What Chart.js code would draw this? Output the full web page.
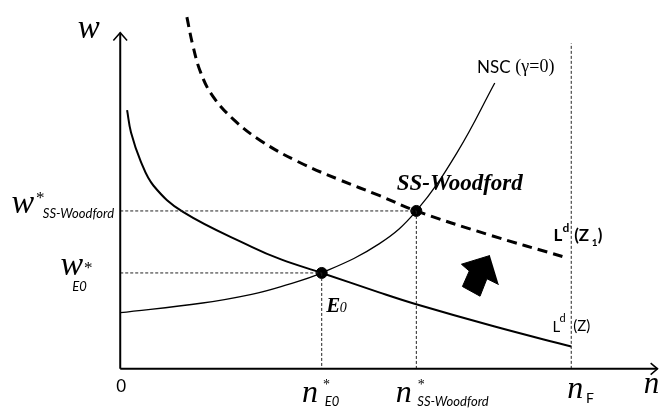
<!DOCTYPE html>
<html><head><meta charset="utf-8">
<script src="https://cdn.jsdelivr.net/npm/chart.js@4/dist/chart.umd.min.js"></script>
<style>html,body{margin:0;padding:0;background:#fff}#wrap{width:665px;height:418px}</style>
</head><body><div id="wrap"><canvas id="c" width="665" height="418"></canvas></div>
<script>
// Employment n (horizontal) and real wage w (vertical), arbitrary units
const nscN = [0, 84, 134, 164, 205.5, 264, 302, 344, 382];
const nscW = [58, 68, 77, 85, 99, 129, 163, 224, 295];

const ldN = [7, 11, 21, 34, 64, 134, 164, 205.5, 264, 301, 381, 460];
const ldW = [267, 244, 214, 189, 162, 126, 113, 99, 79, 67, 44, 23];

const ld1N = [68, 74, 82, 94, 116, 144, 181, 224, 264, 302, 374, 451];
const ld1W = [363, 334, 306, 282, 257, 235, 214, 195, 179, 163, 139, 116];

const eqNames = ['E0', 'SS-Woodford'];
const eqN = [205.5, 302];
const eqW = [99, 163];

const nFull = 460;
const nFullTop = 336;

const shiftArrowN = [377, 348, 356, 349, 367, 374, 386];
const shiftArrowW = [117, 108, 101, 85, 75, 93, 87];

const axisN = [0, 548];
const axisW = [0, 347];

const zip = (a, b) => a.map((v, i) => ({x: v, y: b[i]}));

const line = (data, extra) => Object.assign({
  type: 'line', data, borderColor: '#000', borderWidth: 1.5, pointRadius: 0,
  tension: 0, fill: false
}, extra);

const dotted = {borderColor: '#222', borderWidth: 1, borderDash: [3, 2]};

const datasets = [
  // axes
  line([{x: axisN[0], y: 0}, {x: axisN[1], y: 0}], {borderWidth: 2}),
  line([{x: 0, y: axisW[0]}, {x: 0, y: axisW[1]}], {borderWidth: 2}),
  line([{x: axisN[1] - 7, y: 6}, {x: axisN[1], y: 0}, {x: axisN[1] - 7, y: -6}], {borderWidth: 1.5}),
  line([{x: -7, y: axisW[1] - 8}, {x: 0, y: axisW[1]}, {x: 7, y: axisW[1] - 8}], {borderWidth: 1.5}),
  // dotted guides
  line([{x: 0, y: eqW[0]}, {x: eqN[0], y: eqW[0]}], dotted),
  line([{x: eqN[0], y: eqW[0]}, {x: eqN[0], y: 0}], dotted),
  line([{x: 0, y: eqW[1]}, {x: eqN[1], y: eqW[1]}], dotted),
  line([{x: eqN[1], y: eqW[1]}, {x: eqN[1], y: 0}], dotted),
  line([{x: nFull, y: 0}, {x: nFull, y: nFullTop}], dotted),
  // curves
  line(zip(ldN, ldW), {borderWidth: 2, tension: 0.4}),
  line(zip(nscN, nscW), {borderWidth: 1.3, tension: 0.4}),
  line(zip(ld1N, ld1W), {borderWidth: 3, borderDash: [10, 6], tension: 0.4}),
  // shift arrow
  line(zip(shiftArrowN, shiftArrowW), {borderWidth: 1, backgroundColor: '#000', fill: 'shape'}),
  // equilibrium points
  {type: 'line', data: zip(eqN, eqW), showLine: false, pointRadius: 5.5, pointBackgroundColor: '#000', pointBorderColor: '#000', pointBorderWidth: 1}
];

const labels = {
  id: 'labels',
  afterDatasetsDraw(chart) {
    const ctx = chart.ctx, xs = chart.scales.x, ys = chart.scales.y;
    const px = v => xs.getPixelForValue(v), py = v => ys.getPixelForValue(v);
    const T = (s, n, w, font, align, base) => {
      ctx.font = font; ctx.textAlign = align || 'left'; ctx.textBaseline = base || 'middle';
      ctx.fillStyle = '#000'; ctx.fillText(s, px(n), py(w));
    };
    const SERIF = '"Liberation Serif", "Times New Roman", serif';
    const SANS = 'Lato, "Liberation Sans", sans-serif';
    ctx.save();
    // axis titles
    T('w', -32, 341, 'italic 33px ' + SERIF, 'center', 'alphabetic');
    T('n', 534, -25, 'italic 31px ' + SERIF, 'left', 'alphabetic');
    T('0', 1, -18, '17px ' + SANS, 'center');
    // w*_SS-Woodford
    T('w', -111, 161, 'italic 34px ' + SERIF, 'left', 'alphabetic');
    T('*', -86, 176, '17px ' + SERIF, 'left');
    T('SS-Woodford', -79, 160, 'italic 13px ' + SANS, 'left');
    // w*_E0
    T('w', -61, 97, 'italic 34px ' + SERIF, 'left', 'alphabetic');
    T('*', -37, 104, '17px ' + SERIF, 'left');
    T('E0', -49, 85, 'italic 13px ' + SANS, 'left');
    // n*_E0
    T('n', eqN[0] - 20, -34, 'italic 32px ' + SERIF, 'left', 'alphabetic');
    T('*', eqN[0] + 5, -17, '14px ' + SERIF, 'center');
    T('E0', eqN[0] + 3, -34, 'italic 13px ' + SANS, 'left');
    // n*_SS-Woodford
    T('n', eqN[1] - 21, -34, 'italic 32px ' + SERIF, 'left', 'alphabetic');
    T('*', eqN[1] + 5, -17, '14px ' + SERIF, 'center');
    T('SS-Woodford', eqN[1] + 1, -34, 'italic 13px ' + SANS, 'left');
    // n_F
    T('n', nFull - 4, -30, 'italic 32px ' + SERIF, 'left', 'alphabetic');
    T('F', nFull + 15, -31, '14px ' + SANS, 'left');
    // NSC
    T('NSC', 364, 311, '17px ' + SANS, 'left');
    T('(\u03B3=0)', 403, 311, '18px ' + SERIF, 'left');
    // SS-Woodford point label
    T('SS-Woodford', 282, 191, 'bold italic 23px ' + SERIF, 'left');
    // E0 label
    T('E', 210, 64, 'bold italic 21px ' + SERIF, 'left');
    T('0', 224, 63, 'italic 14px ' + SERIF, 'left');
    // Ld(Z1)
    T('L', 442, 138, 'bold 17px ' + SANS, 'left');
    T('d', 451, 145, 'bold 12px ' + SANS, 'left');
    T('(Z', 463, 138, 'bold 17px ' + SANS, 'left');
    T('1', 481, 130, 'bold 10px ' + SANS, 'left');
    T(')', 487, 138, 'bold 17px ' + SANS, 'left');
    // Ld(Z)
    T('L', 441, 43, '15px ' + SANS, 'left');
    T('d', 448, 52, '11px ' + SANS, 'left');
    T('(Z)', 462, 44, '15px ' + SANS, 'left');
    ctx.restore();
  }
};

new Chart(document.getElementById('c'), {
  data: {datasets},
  options: {
    responsive: false, animation: false, devicePixelRatio: 1,
    layout: {padding: 0},
    scales: {
      x: {type: 'linear', min: -116, max: 549, display: false},
      y: {type: 'linear', min: -44, max: 374, display: false}
    },
    plugins: {legend: {display: false}, tooltip: {enabled: false}},
    clip: false
  },
  plugins: [labels]
});
</script></body></html>
